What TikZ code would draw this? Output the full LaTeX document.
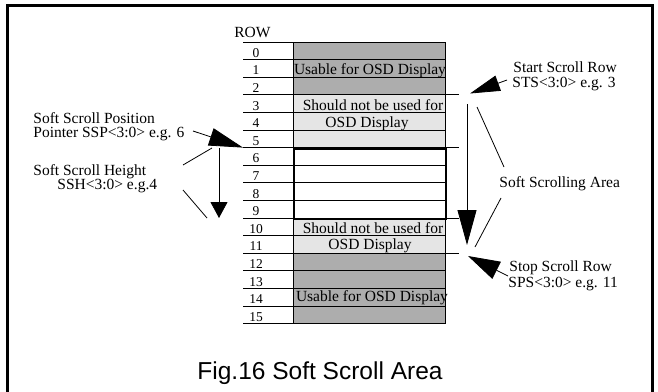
\documentclass[tikz,border=0pt]{standalone}
\usepackage{fontspec}
\setmainfont{Liberation Serif}
\newfontfamily\captionfont{Liberation Sans}
\usetikzlibrary{arrows.meta}
\newcommand{\rowh}{17.6}
\newcommand{\rowtop}{42}
\newcommand{\thinw}{0.8pt}
\newcommand{\thickw}{2.2pt}

\begin{document}
\begin{tikzpicture}[x=1pt, y=-1pt, line width=\thinw]
    %\draw[help lines] (0,0) grid (658,391);
    \tikzset{
        lbl/.style = {font=\fontsize{15.5}{15}\selectfont, inner sep=0pt, anchor=base west},
        celltext/.style = {font=\fontsize{15.5}{15}\selectfont, inner sep=0pt, anchor=base},
        rownum/.style = {font=\fontsize{13.5}{14}\selectfont, inner sep=0pt, anchor=base},
        cell/.style = {rectangle, inner sep=0pt, anchor=north west, minimum width=152pt},
        usable/.style = {cell, fill=black!32},
        avoid/.style = {cell, fill=black!10},
        scrollbox/.style = {cell, draw, line width=\thickw},
        pointer/.style 2 args = {-{Triangle[length=#1, width=#2]}}
    }
    \useasboundingbox (0,0) rectangle (658,391);
    % frame, lower edge is cut off
    \draw[line width=3pt] (7.5,400) -- (7.5,5) -- (652,5) -- (652,400);

    % display rows
    \node[usable, minimum height=52.8pt] (use0) at (293,42) {};
    \node[avoid, minimum height=52.8pt] (avoid0) at (293,94.8) {};
    \node[avoid, minimum height=35.2pt] (avoid1) at (293,218) {};
    \node[usable, minimum height=70.4pt] (use1) at (293,253.2) {};
    \foreach \i in {0,...,16}{
        \pgfmathsetmacro{\yy}{\rowtop+\rowh*\i}
        \draw (243,\yy) -- (445,\yy);
    }
    \foreach \i in {3,6,10,12}{
        \pgfmathsetmacro{\yy}{\rowtop+\rowh*\i}
        \draw (445,\yy) -- (459,\yy);
    }
    \draw (293,42) -- (293,323.6);
    \draw (445,42) -- (445,323.6);
    \node[scrollbox, minimum height=70.4pt] (scroll) at (293,147.6) {};

    \node[lbl] (rowhead) at (234,37) {ROW};
    \foreach \i in {0,...,15}{
        \pgfmathsetmacro{\yy}{\rowtop+\rowh*\i+15.3}
        \node[rownum] (n\i) at (256,\yy) {\i};
    }
    \node[celltext] (usetxt0) at (370,74) {Usable for OSD Display};
    \node[celltext] (avoidtxt0a) at (373,110) {Should not be used for};
    \node[celltext] (avoidtxt0b) at (367,127) {OSD Display};
    \node[celltext] (avoidtxt1a) at (373,233) {Should not be used for};
    \node[celltext] (avoidtxt1b) at (370,249) {OSD Display};
    \node[celltext] (usetxt1) at (372,301) {Usable for OSD Display};

    % left labels
    \node[lbl] (ssp1) at (33,123) {Soft Scroll Position};
    \node[lbl] (ssp2) at (33,137) {Pointer SSP<3:0> e.g. 6};
    \node[lbl] (ssh1) at (33,175) {Soft Scroll Height};
    \node[lbl] (ssh2) at (57,189) {SSH<3:0> e.g.4};
    \coordinate (sspfoot) at (193,131);
    \coordinate (ssptip) at (243,147.6);
    \coordinate (sshtop) at (219,148);
    \coordinate (sshbot) at (219,218);
    \coordinate (sshup) at (183,165);
    \coordinate (sshupend) at (212,148);
    \coordinate (sshlow) at (183,190);
    \coordinate (sshlowend) at (207,218);
    \draw[pointer={34pt}{18pt}] (sspfoot) -- (ssptip);
    \draw[pointer={16pt}{17pt}] (sshtop) -- (sshbot);
    \draw (sshup) -- (sshupend);
    \draw (sshlow) -- (sshlowend);

    % right labels
    \node[lbl] (sts1) at (513,72) {Start Scroll Row};
    \node[lbl] (sts2) at (512,87) {STS<3:0> e.g. 3};
    \node[lbl] (area) at (499,187) {Soft Scrolling Area};
    \node[lbl] (sps1) at (509,271) {Stop Scroll Row};
    \node[lbl] (sps2) at (508,287) {SPS<3:0> e.g. 11};
    \coordinate (stsfoot) at (507,80);
    \coordinate (ststip) at (470,93.5);
    \coordinate (areatop) at (467,104);
    \coordinate (areabot) at (467,245);
    \coordinate (areaup) at (477,107);
    \coordinate (areaupend) at (504,167);
    \coordinate (arealow) at (501,198);
    \coordinate (arealowend) at (475,247);
    \coordinate (spsfoot) at (508,276);
    \coordinate (spstip) at (468,256);
    \draw[pointer={30pt}{16pt}] (stsfoot) -- (ststip);
    \draw[pointer={35pt}{19pt}] (areatop) -- (areabot);
    \draw (areaup) -- (areaupend);
    \draw (arealow) -- (arealowend);
    \draw[pointer={32pt}{19pt}] (spsfoot) -- (spstip);

    \node[font=\captionfont\fontsize{24.5}{26}\selectfont, inner sep=0pt, anchor=base] (caption) at (320,379) {Fig.16 Soft Scroll Area};
\end{tikzpicture}
\end{document}
